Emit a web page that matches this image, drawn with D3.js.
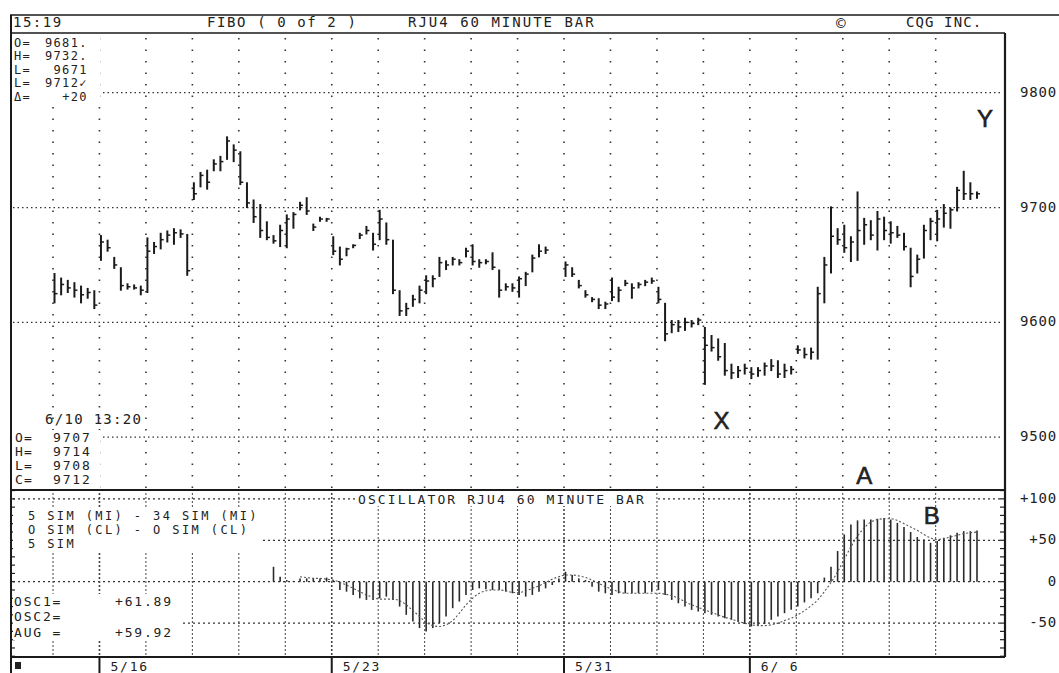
<!DOCTYPE html>
<html><head><meta charset="utf-8">
<script src="https://cdn.jsdelivr.net/npm/d3@7/dist/d3.min.js"></script>
<style>
html,body{margin:0;padding:0;background:#fff;}
svg{display:block;}
.mono{font-family:"DejaVu Sans Mono","Liberation Mono",monospace;fill:#222;}
.big{font-family:"Liberation Sans","DejaVu Sans",sans-serif;fill:#222;}
</style></head>
<body>
<svg id="c" width="1059" height="673"></svg>
<script>
// ---------- DATA ----------
// 60-minute bars, 7 per trading day, 5/13 .. 6/10 (null = no bar)
const barHigh = [
 9643,9639,9637,9635,9632,9630,9628,
 9676,9672,9657,9648,9634,9633,9632,
 9674,9670,9678,9680,9682,9681,9677,
 9722,9731,9733,9742,9745,9762,9755,
 9749,9722,9707,9703,9688,9676,9685,
 9694,9696,9705,9709,9686,9692,9691,
 9675,9666,9665,9668,9678,9684,9678,
 9698,9687,9672,9628,9617,9624,9632,
 9641,9641,9657,9654,9657,9655,9665,
 9668,9655,9655,9661,9646,9634,9634,
 9640,9644,9659,9668,9666,null,null,
 9653,9648,9637,9628,9622,9621,9618,
 9639,9631,9637,9634,9635,9637,9639,
 9631,9617,9602,9602,9604,9602,9604,
 9596,9589,9586,9582,9564,9562,9564,
 9561,9561,9565,9568,9567,9564,9562,
 9580,9578,9578,9631,9657,9701,9682,
 9685,9675,9714,9691,9689,9697,9692,
 9688,9684,9678,9665,9659,9685,9691,
 9698,9703,9700,9718,9732,9722,9714
];
const barLow = [
 9617,9624,9626,9622,9617,9621,9612,
 9654,9662,9647,9628,9629,9629,9624,
 9626,9660,9664,9670,9668,9674,9641,
 9707,9718,9716,9732,9732,9742,9740,
 9720,9700,9687,9674,9672,9669,9666,
 9665,9682,9698,9694,9680,9688,9688,
 9659,9650,9658,9665,9673,9677,9663,
 9672,9668,9625,9606,9606,9614,9617,
 9625,9631,9640,9646,9650,9650,9657,
 9650,9648,9651,9646,9622,9628,9627,
 9622,9632,9644,9657,9660,null,null,
 9640,9640,9630,9622,9618,9612,9612,
 9619,9618,9632,9621,9630,9632,9634,
 9617,9584,9591,9592,9593,9596,9598,
 9546,9575,9567,9554,9551,9552,9555,
 9551,9553,9554,9558,9552,9552,9555,
 9573,9569,9568,9568,9617,9643,9668,
 9661,9653,9654,9668,9672,9663,9672,
 9669,9674,9663,9631,9643,9656,9672,
 9671,9683,9682,9697,9707,9707,9708
];
const barClose = [
 9625,9633,9630,9628,9624,9626,9615,
 9670,9665,9650,9632,9631,9630,9628,
 9662,9666,9672,9676,9678,9677,9645,
 9712,9728,9722,9738,9740,9758,9750,
 9722,9704,9692,9680,9674,9671,9680,
 9690,9694,9702,9697,9683,9690,9690,
 9662,9655,9664,9667,9676,9680,9668,
 9690,9672,9628,9610,9612,9620,9628,
 9636,9638,9652,9650,9655,9652,9662,
 9653,9652,9653,9648,9628,9631,9630,
 9638,9642,9656,9662,9663,null,null,
 9650,9642,9632,9624,9620,9615,9616,
 9622,9628,9634,9630,9633,9635,9636,
 9620,9590,9598,9596,9600,9599,9602,
 9580,9578,9570,9558,9556,9558,9560,
 9555,9558,9562,9562,9555,9558,9559,
 9576,9572,9574,9625,9650,9675,9672,
 9665,9670,9680,9685,9676,9690,9680,
 9678,9676,9666,9640,9655,9680,9688,
 9690,9695,9698,9715,9712,9712,9712
];
// oscillator (5 SIM - 34 SIM), starts at bar 33
const oscStart = 33;
const oscValues = [
 18,6,2,1,4,4,4,4,5,2,
 -10,-12,-16,-20,-22,-22,-20,-18,-22,-30,
 -40,-48,-56,-60,-56,-50,-42,-32,-24,-16,
 -10,-8,-9,-10,-10,-12,-14,-16,-18,-16,
 -12,-8,-4,4,12,8,4,2,-6,-12,
 -14,-16,-14,-14,-14,-14,-14,-12,-10,-16,
 -22,-26,-30,-34,-36,-38,-40,-42,-44,-46,
 -48,-51,-54,-53,-51,-46,-42,-38,-34,-30,
 -25,-20,-14,5,18,37,57,69,74,75,
 75,76,77,75,71,66,60,54,51,47,
 49,53,56,59,61,61,61.89
];
// 5 SIM average of oscillator, starts at bar 37
const avgStart = 37;
const avgValues = [
 6,5,4,4,3,2,-1,-4,-8,-12,
 -16,-19,-21,-21,-21,-23,-28,-35,-42,-49,
 -53,-54,-52,-47,-38,-28,-20,-14,-11,-10,
 -10,-11,-13,-13,-11,-8,-5,-1,3,6,
 8,8,7,5,2,-2,-6,-9,-12,-14,
 -14,-14,-14,-14,-14,-15,-17,-20,-24,-28,
 -31,-34,-37,-40,-43,-45,-48,-50,-52,-53,
 -53,-52,-50,-47,-44,-40,-35,-29,-22,-12,
 -1,12,27,42,55,65,72,75,76,76,
 74,70,66,62,57,53,51,52,54,56,
 58,59,59.92
];
const dayStarts = [0,7,14,21,28,35,42,49,56,63,70,77,84,91,98,105,112,119,126,133];
const weekStarts = [7,42,77,105];
const dateLabels = ["5/16","5/23","5/31","6/ 6"];
const priceTicks = [9800,9700,9600,9500];
const oscTicks = [100,50,0,-50];
const oscTickLabels = ["+100","+50","0","-50"];
const topInfoLabels = ["O=","H=","L=","L=","Δ="];
const topInfoValues = ["9681.","9732.","9671","9712✓","+20"];
const lastBarLabels = ["O=","H=","L=","C="];
const lastBarValues = ["9707","9714","9708","9712"];
const oscTitleLines = ["5 SIM (MI) - 34 SIM (MI)","O SIM (CL) -  O SIM (CL)","5 SIM"];
const oscReadLabels = ["OSC1=","OSC2=","AUG ="];
const oscReadValues = ["+61.89","","+59.92"];
// annotations: letter, bar position, price / oscillator value
const annotations = [
 {t:"X", bar:100.5, price:9513},
 {t:"Y", bar:140.2, price:9776},
 {t:"A", bar:122,   price:9465},
 {t:"B", bar:132.2, osc:77}
];

// ---------- LAYOUT ----------
const L = 11, R = 1005, TOP = 33, MID = 490, BOT = 657;
const svg = d3.select("#c");
svg.append("rect").attr("width",1059).attr("height",673).attr("fill","#fff");

const x = d3.scaleLinear().domain([0,139]).range([54.5,977]);
const yP = d3.scaleLinear().domain([9454,9852]).range([MID,TOP]);
const yO = d3.scaleLinear().domain([-90.9,110.7]).range([BOT,MID]);
const gx = i => x(i) - 1.5;

function mono(t, px, py, size, ls, anchor){
  return svg.append("text").attr("class","mono").attr("x",px).attr("y",py)
    .attr("font-size",size).attr("letter-spacing",ls).attr("text-anchor",anchor||"start")
    .attr("dominant-baseline","middle").text(t);
}

// ---------- GRID: price ----------
const gP = svg.append("g");
gP.selectAll("line.h").data(priceTicks).join("line")
  .attr("x1",L+2).attr("x2",R-2).attr("y1",d=>yP(d)).attr("y2",d=>yP(d))
  .attr("stroke","#333").attr("stroke-width",1.3).attr("stroke-dasharray","1.5,3");
gP.selectAll("line.v").data(dayStarts).join("line")
  .attr("x1",gx).attr("x2",gx).attr("y1",TOP+5).attr("y2",MID-2)
  .attr("stroke","#333").attr("stroke-width",1.6).attr("stroke-dasharray","1.5,10");

// ---------- GRID: oscillator ----------
const gO = svg.append("g");
gO.selectAll("line.h").data(oscTicks).join("line")
  .attr("x1",L+2).attr("x2",R-2).attr("y1",d=>yO(d)).attr("y2",d=>yO(d))
  .attr("stroke","#333").attr("stroke-width",1.2).attr("stroke-dasharray","2,3");
gO.selectAll("line.v").data(dayStarts).join("line")
  .attr("x1",gx).attr("x2",gx).attr("y1",MID+3).attr("y2",BOT-2)
  .attr("stroke","#444").attr("stroke-width",d=>weekStarts.includes(d)?1.6:1)
  .attr("stroke-dasharray","2,2");
// border ticks every 10 units
const minor = d3.range(-90,111,10);
gO.selectAll("line.tl").data(minor).join("line")
  .attr("x1",L).attr("x2",L+4).attr("y1",d=>yO(d)).attr("y2",d=>yO(d))
  .attr("stroke","#222").attr("stroke-width",1.2);
gO.selectAll("line.tr").data(minor).join("line")
  .attr("x1",R-5).attr("x2",R).attr("y1",d=>yO(d)).attr("y2",d=>yO(d))
  .attr("stroke","#222").attr("stroke-width",1.2);

// ---------- PRICE BARS ----------
const bars = barHigh.map((h,i)=>({i,h,l:barLow[i],c:barClose[i]})).filter(d=>d.h!=null);
const gB = svg.append("g");
gB.selectAll("line.bar").data(bars).join("line")
  .attr("x1",d=>x(d.i)).attr("x2",d=>x(d.i))
  .attr("y1",d=>yP(d.h)).attr("y2",d=>yP(d.l)+0.5)
  .attr("stroke","#1a1a1a").attr("stroke-width",2);
gB.selectAll("line.cl").data(bars).join("line")
  .attr("x1",d=>x(d.i)).attr("x2",d=>x(d.i)+3)
  .attr("y1",d=>yP(d.c)).attr("y2",d=>yP(d.c))
  .attr("stroke","#1a1a1a").attr("stroke-width",1.5);

// ---------- OSCILLATOR ----------
const osc = oscValues.map((v,k)=>({i:oscStart+k,v}));
const avg = avgValues.map((v,k)=>({i:avgStart+k,v}));
svg.append("g").selectAll("line").data(osc).join("line")
  .attr("x1",d=>x(d.i)).attr("x2",d=>x(d.i))
  .attr("y1",yO(0)).attr("y2",d=>yO(d.v))
  .attr("stroke","#2a2a2a").attr("stroke-width",1.6);
svg.append("path").datum(avg)
  .attr("d",d3.line().x(d=>x(d.i)).y(d=>yO(d.v)).curve(d3.curveMonotoneX))
  .attr("fill","none").attr("stroke","#555").attr("stroke-width",1.1)
  .attr("stroke-dasharray","2,2");

// ---------- FRAME ----------
const fr = svg.append("g").attr("stroke","#1a1a1a").attr("fill","none");
fr.append("line").attr("x1",10).attr("x2",1059).attr("y1",15).attr("y2",15).attr("stroke-width",1.6);
fr.append("line").attr("x1",L).attr("x2",L).attr("y1",15).attr("y2",673).attr("stroke-width",2);
fr.append("line").attr("x1",L).attr("x2",R).attr("y1",TOP).attr("y2",TOP).attr("stroke-width",1.6);
fr.append("line").attr("x1",R).attr("x2",R).attr("y1",TOP).attr("y2",BOT).attr("stroke-width",2.2);
fr.append("line").attr("x1",L).attr("x2",R).attr("y1",MID).attr("y2",MID).attr("stroke-width",2);
fr.append("line").attr("x1",L).attr("x2",R).attr("y1",BOT).attr("y2",BOT).attr("stroke-width",2);
// week ticks below the panel
fr.selectAll("line.wk").data(weekStarts).join("line")
  .attr("x1",gx).attr("x2",gx).attr("y1",BOT).attr("y2",673).attr("stroke-width",2);

// ---------- TEXT ----------
mono("15:19",13,23,14,1.5);
mono("FIBO ( 0 of 2 )",207,23,14,1.6);
mono("RJU4 60 MINUTE BAR",408,23,14,2.0);
mono("©",836,24,16,0);
mono("CQG INC.",906,23,14,1.1);

// price / oscillator axis labels at the right edge
priceTicks.forEach(p=>mono(String(p),1057,yP(p),14,0.8,"end"));
oscTicks.forEach((v,k)=>mono(oscTickLabels[k],1057,yO(v),14,0.8,"end"));

// date labels
weekStarts.forEach((i,k)=>mono(dateLabels[k],gx(i)+11,667,13,1.8));
svg.append("rect").attr("x",15).attr("y",662).attr("width",6).attr("height",7).attr("fill","#222");

// top-left info block
svg.append("rect").attr("x",L+1).attr("y",35).attr("width",88).attr("height",68).attr("fill","#fff");
topInfoLabels.forEach((t,k)=>{
  mono(t,14,43+k*13.5,12,1.2);
  mono(topInfoValues[k],88,43+k*13.5,12,1.4,"end");
});
// last bar block
svg.append("rect").attr("x",L+1).attr("y",430).attr("width",88).attr("height",58).attr("fill","#fff");
mono("6/10 13:20",45,420,14,1.3);
lastBarLabels.forEach((t,k)=>{
  mono(t,15,438+k*14,13,1.2);
  mono(lastBarValues[k],53,438+k*14,13,1.8);
});

// oscillator title + study lines
svg.append("rect").attr("x",355).attr("y",492).attr("width",300).attr("height",14).attr("fill","#fff");
mono("OSCILLATOR RJU4 60 MINUTE BAR",358,500,13,2.1);
svg.append("rect").attr("x",L+2).attr("y",508).attr("width",250).attr("height",43).attr("fill","#fff");
oscTitleLines.forEach((t,k)=>mono(t,28,516+k*14,12,2.4));
svg.append("rect").attr("x",L+2).attr("y",594).attr("width",170).attr("height",46).attr("fill","#fff");
oscReadLabels.forEach((t,k)=>{
  mono(t,14,602+k*15.5,13,1.8);
  if(oscReadValues[k]) mono(oscReadValues[k],115,602+k*15.5,13,1.8);
});

// hand-written annotations
annotations.forEach(a=>svg.append("text").attr("class","big")
  .attr("x",x(a.bar)).attr("y",a.price!=null?yP(a.price):yO(a.osc))
  .attr("font-size",24).attr("text-anchor","middle").attr("dominant-baseline","middle")
  .attr("stroke","#222").attr("stroke-width",0.6).text(a.t));
</script>
</body></html>
